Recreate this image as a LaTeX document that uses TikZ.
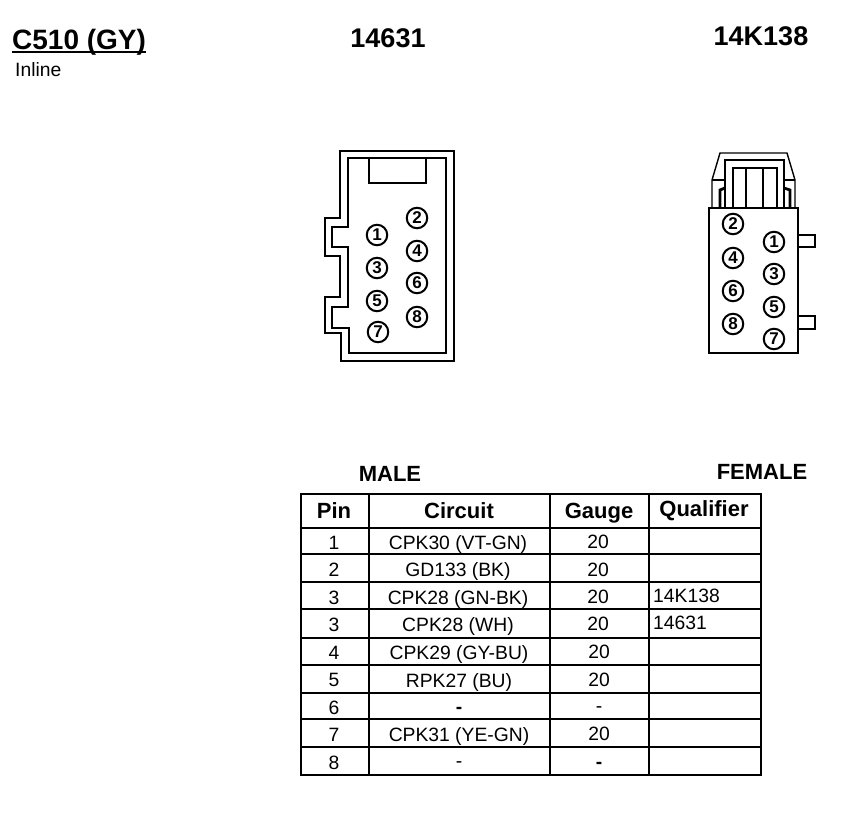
\documentclass[tikz,border=0pt]{standalone}
\usepackage{fontspec}
\setmainfont{Liberation Sans}
\tikzset{
  pin/.style={shape=circle, draw=black, line width=2pt, inner sep=0pt, minimum size=20.5pt, font=\fontsize{17}{17}\selectfont\bfseries},
  title/.style={font=\fontsize{27}{27}\selectfont\bfseries},
  label/.style={font=\fontsize{22}{22}\selectfont\bfseries},
  head/.style={font=\fontsize{22}{22}\selectfont\bfseries},
  cell/.style={font=\fontsize{19.3}{19.3}\selectfont},
  fat/.style={draw=black, line width=2.8pt},
  slim/.style={draw=black, line width=1.4pt},
  grid/.style={draw=black, line width=2pt},
}
\begin{document}
\begin{tikzpicture}[x=1pt, y=-1pt]
\useasboundingbox (0,0) rectangle (862,816);
% titles
\node[title, font=\fontsize{28}{28}\selectfont\bfseries, anchor=base west, inner sep=0pt] (name) at (12,49) {C510 (GY)};
\draw[line width=1.6pt] ([yshift=-3pt]name.base west) -- ([yshift=-3pt]name.base east);
\node[cell, anchor=west, inner sep=0pt] (inline) at (15,70) {Inline};
\node[title] (part1) at (388,38) {14631};
\node[title] (part2) at (761,36) {14K138};
\node[label] (male) at (390,474) {MALE};
\node[label] (female) at (762,472) {FEMALE};
% male connector
\draw[slim] (340,151) -- (454,151) -- (454,361) -- (341,361) -- (341,333) -- (325,333) -- (325,297) -- (340,297) -- (340,256) -- (325,256) -- (325,218) -- (340,218) -- cycle;
\draw[fat] (348,158) -- (446,158) -- (446,353) -- (349,353) -- (349,328) -- (332,328) -- (332,307) -- (348,307) -- (348,247) -- (332,247) -- (332,227) -- (348,227) -- cycle;
\draw[fat] (369,158) -- (369,183) -- (426,183) -- (426,158);
\node[pin] (m1) at (377,235) {1};
\node[pin] (m2) at (417,218) {2};
\node[pin] (m3) at (377,268) {3};
\node[pin] (m4) at (417,251) {4};
\node[pin] (m5) at (377,301) {5};
\node[pin] (m6) at (417,283) {6};
\node[pin] (m7) at (378,332) {7};
\node[pin] (m8) at (417,317) {8};
% female connector
\draw[slim] (709,208) rectangle (798,353);
\draw[slim] (798,235) -- (815,235) -- (815,247) -- (798,247);
\draw[slim] (798,316) -- (815,316) -- (815,329) -- (798,329);
\draw[slim] (712,208) -- (712,180) -- (720,153) -- (787,153) -- (795,180) -- (795,208);
\draw[slim] (712,180) -- (725,180);
\draw[slim] (784,180) -- (795,180);
\draw[fat] (725,208) -- (725,160) -- (784,160) -- (784,208);
\draw[fat] (733,208) -- (733,168) -- (777,168) -- (777,208);
\draw[slim] (746,168) -- (746,208);
\draw[slim] (763,168) -- (763,208);
\draw[fat] (720,208) -- (720,190) -- (725,188);
\draw[fat] (790,208) -- (790,190) -- (784,188);
\node[pin] (f1) at (774,242) {1};
\node[pin] (f2) at (733,224) {2};
\node[pin] (f3) at (774,274) {3};
\node[pin] (f4) at (733,258) {4};
\node[pin] (f5) at (774,307) {5};
\node[pin] (f6) at (733,291) {6};
\node[pin] (f7) at (774,339) {7};
\node[pin] (f8) at (733,324) {8};
% table
\draw[grid] (301,494) rectangle (761,775);
\draw[grid] (369,494) -- (369,775);
\draw[grid] (550,494) -- (550,775);
\draw[grid] (649,494) -- (649,775);
\draw[grid] (301,528) -- (761,528);
\draw[grid] (301,554) -- (761,554);
\draw[grid] (301,582) -- (761,582);
\draw[grid] (301,609) -- (761,609);
\draw[grid] (301,638) -- (761,638);
\draw[grid] (301,665) -- (761,665);
\draw[grid] (301,693) -- (761,693);
\draw[grid] (301,719) -- (761,719);
\draw[grid] (301,747) -- (761,747);
\node[head] (hpin) at (334,511) {Pin};
\node[head] (hcircuit) at (459,511) {Circuit};
\node[head] (hgauge) at (599,513) {Gauge};
\node[head] (hqual) at (704,511) {Qualifier};
\node[cell] (p1) at (334,543) {1};
\node[cell] (c1) at (458,544) {CPK30 (VT-GN)};
\node[cell] (g1) at (598,542) {20};
\node[cell] (p2) at (334,570) {2};
\node[cell] (c2) at (458,571) {GD133 (BK)};
\node[cell] (g2) at (598,570) {20};
\node[cell] (p3) at (334,598) {3};
\node[cell] (c3) at (458,599) {CPK28 (GN-BK)};
\node[cell] (g3) at (598,597) {20};
\node[cell, anchor=west, inner sep=0pt] (q3) at (653,596) {14K138};
\node[cell] (p4) at (334,625) {3};
\node[cell] (c4) at (458,626) {CPK28 (WH)};
\node[cell] (g4) at (598,624) {20};
\node[cell, anchor=west, inner sep=0pt] (q4) at (653,623) {14631};
\node[cell] (p5) at (334,653) {4};
\node[cell] (c5) at (459,654) {CPK29 (GY-BU)};
\node[cell] (g5) at (599,652) {20};
\node[cell] (p6) at (334,680) {5};
\node[cell] (c6) at (459,682) {RPK27 (BU)};
\node[cell] (g6) at (599,680) {20};
\node[cell] (p7) at (334,708) {6};
\node[cell, font=\fontsize{19.3}{19.3}\selectfont\bfseries] (c7) at (459,710) {-};
\node[cell] (g7) at (599,710) {-};
\node[cell] (p8) at (334,735) {7};
\node[cell] (c8) at (459,736) {CPK31 (YE-GN)};
\node[cell] (g8) at (599,734) {20};
\node[cell] (p9) at (334,763) {8};
\node[cell] (c9) at (459,765) {-};
\node[cell, font=\fontsize{19.3}{19.3}\selectfont\bfseries] (g9) at (599,765) {-};
\end{tikzpicture}
\end{document}
